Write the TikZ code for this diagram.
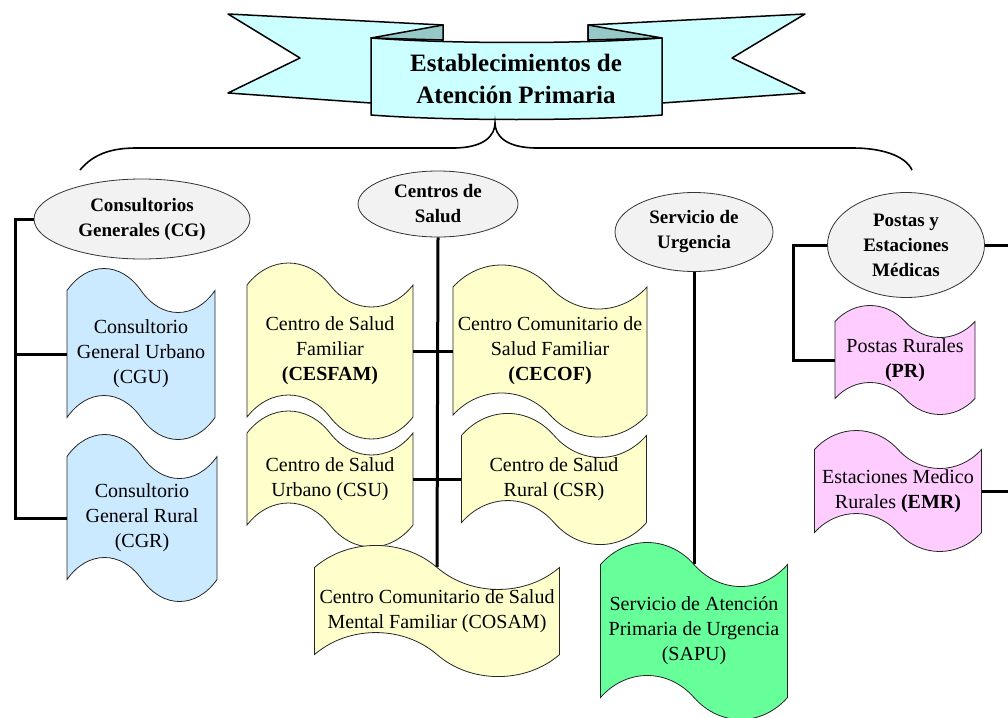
\documentclass[tikz,border=0pt]{standalone}
\usepackage{fontspec}
\setmainfont{Liberation Serif}
\usetikzlibrary{shapes.geometric,shapes.symbols}
\definecolor{cinta}{RGB}{204,255,255}
\definecolor{pliegue}{RGB}{150,200,200}
\definecolor{gris}{RGB}{242,242,242}
\definecolor{celeste}{RGB}{204,234,255}
\definecolor{amarillo}{RGB}{255,255,204}
\definecolor{verde}{RGB}{102,255,153}
\definecolor{rosado}{RGB}{255,204,255}
\tikzset{
  grupo/.style={ellipse, draw=black!80, line width=0.8pt, fill=gris, inner sep=0pt,
    align=center, font=\rmfamily\fontsize{19}{25}\selectfont\bfseries},
  tira/.style={tape, draw=black!85, line width=0.8pt, tape bend top=out and in,
    tape bend bottom=out and in, tape bend height=44pt, inner sep=0pt,
    align=center, font=\rmfamily\fontsize{20}{25}\selectfont},
  linea/.style={line width=3pt},
}
\begin{document}
\begin{tikzpicture}[x=1pt,y=-1pt]
  \useasboundingbox (0,0) rectangle (1008,717);

  % cinta del titulo
  \draw[fill=cinta, line width=1.5pt, line join=round] (228,14) -- (443,25) -- (443,40) -- (371,103) -- (228,93) -- (300,58) -- cycle;
  \draw[fill=cinta, line width=1.5pt, line join=round] (805,14) -- (588,25) -- (588,40) -- (662,103) -- (805,93) -- (732,58) -- cycle;
  \draw[fill=pliegue, line width=1.5pt, line join=round] (371,38) -- (443,25) -- (443,40) -- cycle;
  \draw[fill=pliegue, line width=1.5pt, line join=round] (662,38) -- (588,25) -- (588,40) -- cycle;
  \draw[fill=cinta, line width=1.5pt, line join=round] (371,38) .. controls (450,44) and (583,44) .. (662,38)
    -- (662,115) .. controls (583,121) and (450,121) .. (371,115) -- cycle;
  \node[align=center, font=\rmfamily\fontsize{25}{32}\selectfont\bfseries] (titulo) at (516,79) {Establecimientos de\\Atención Primaria};

  % llave
  \draw[line width=1.6pt] (80,170) .. controls (95,152) and (115,148) .. (137,148) -- (453,148)
    .. controls (485,148) and (495,135) .. (495,123) .. controls (495,135) and (505,148) .. (537,148)
    -- (853,148) .. controls (880,148) and (905,155) .. (912,170);

  % grupos
  \node[grupo, minimum width=216pt, minimum height=80pt] (CG) at (142,219) {Consultorios\\Generales (CG)};
  \node[grupo, minimum width=160pt, minimum height=66pt] (CS) at (438,204) {Centros de\\Salud};
  \node[grupo, minimum width=158pt, minimum height=79pt] (SU) at (694,232) {Servicio de\\Urgencia};
  \node[grupo, minimum width=157pt, minimum height=105pt] (PEM) at (906,245) {Postas y\\Estaciones\\Médicas};

  % establecimientos
  \node[tira, fill=celeste, minimum width=148pt, minimum height=171pt] (CGU) at (141,354) {Consultorio\\General Urbano\\(CGU)};
  \node[tira, fill=celeste, minimum width=150pt, minimum height=167pt] (CGR) at (142,518) {Consultorio\\General Rural\\(CGR)};
  \node[tira, fill=amarillo, minimum width=166pt, minimum height=176pt] (CESFAM) at (330,351) {Centro de Salud\\Familiar\\\textbf{(CESFAM)}};
  \node[tira, fill=amarillo, minimum width=194pt, minimum height=172pt] (CECOF) at (550,351) {Centro Comunitario de\\Salud Familiar\\\textbf{(CECOF)}};
  \node[tira, fill=amarillo, minimum width=166pt, minimum height=136pt] (CSU) at (330,479) {Centro de Salud\\Urbano (CSU)};
  \node[tira, fill=amarillo, minimum width=185pt, minimum height=127pt] (CSR) at (554,479) {Centro de Salud\\Rural (CSR)};
  \node[tira, fill=amarillo, minimum width=245pt, minimum height=127pt] (COSAM) at (437,611) {Centro Comunitario de Salud\\Mental Familiar (COSAM)};
  \node[tira, fill=verde, minimum width=187pt, minimum height=177pt] (SAPU) at (694,631) {Servicio de Atención\\Primaria de Urgencia\\(SAPU)};
  \node[tira, fill=rosado, tape bend height=32pt, minimum width=140pt, minimum height=109pt] (PR) at (905,360) {Postas Rurales\\\textbf{(PR)}};
  \node[tira, fill=rosado, tape bend height=38pt, minimum width=167pt, minimum height=121pt] (EMR) at (898,491) {Estaciones Medico\\Rurales \textbf{(EMR)}};

  % conectores
  \coordinate (bus1) at (15,0);
  \coordinate (bus2) at (793,0);
  \coordinate (fuera1) at (1012,245);
  \coordinate (fuera2) at (1012,491);
  \draw[linea] (CG.west) -- (CG.west -| bus1) |- (CGR.west);
  \draw[linea] (bus1 |- CGU.west) -- (CGU.west);
  \draw[linea] (CS.south) -- (COSAM.north);
  \draw[linea] (CESFAM.east) -- (CECOF.west);
  \draw[linea] (CSU.east) -- (CSR.west);
  \draw[linea] (SU.south) -- (SAPU.north);
  \draw[linea] (PEM.west) -- (PEM.west -| bus2) |- (PR.west);
  \draw[linea] (PEM.east) -- (fuera1);
  \draw[linea] (EMR.east) -- (fuera2);
\end{tikzpicture}
\end{document}
